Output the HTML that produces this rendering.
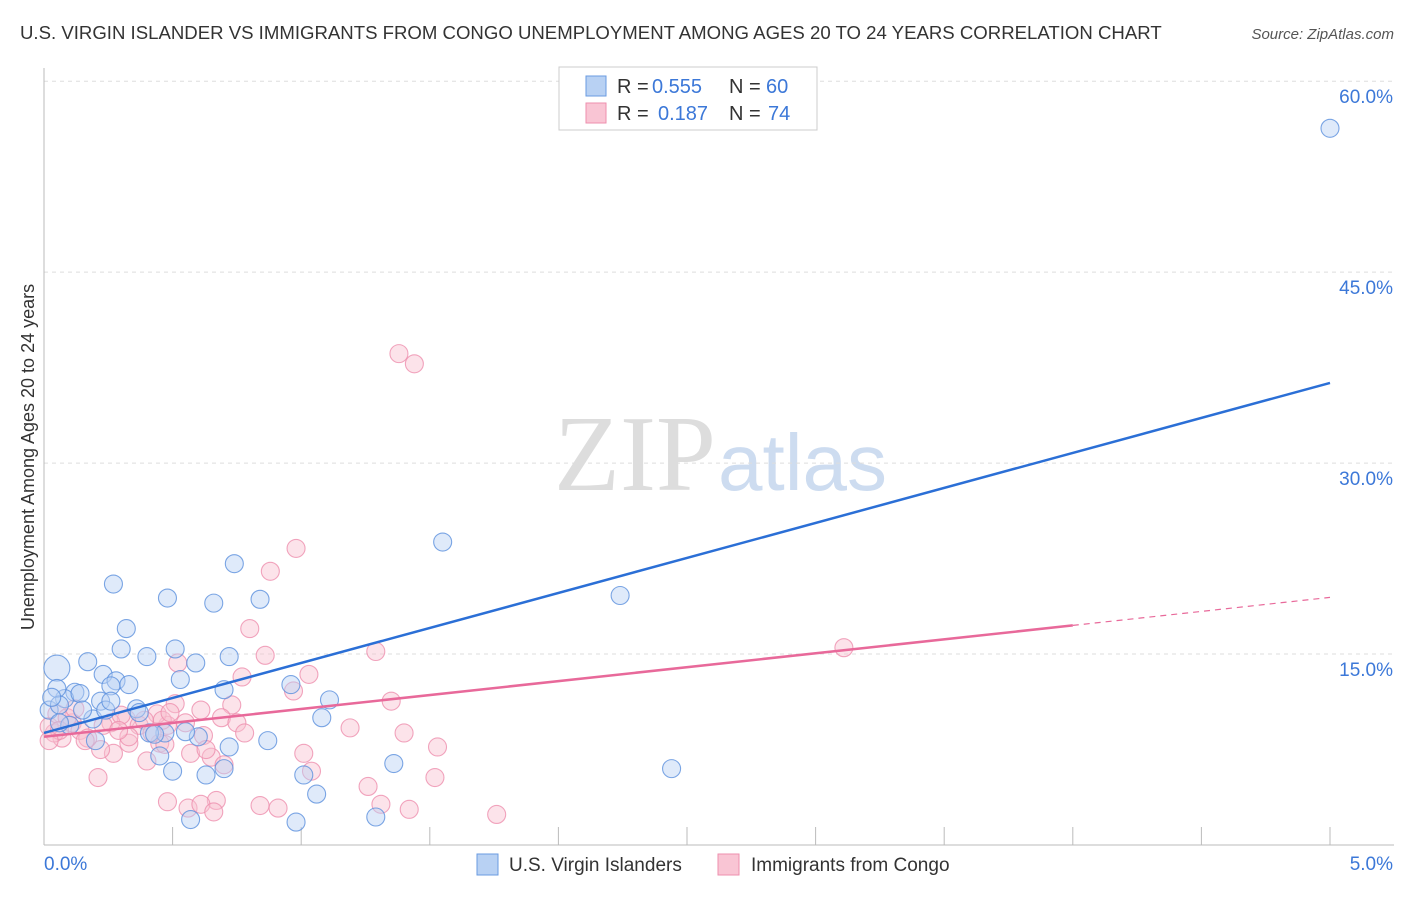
<!DOCTYPE html>
<html><head><meta charset="utf-8"><style>
body{margin:0;background:#fff;font-family:"Liberation Sans",sans-serif}
</style></head><body>
<svg width="1406" height="892" xmlns="http://www.w3.org/2000/svg">
<text x="20" y="39" font-size="18.6" fill="#333">U.S. VIRGIN ISLANDER VS IMMIGRANTS FROM CONGO UNEMPLOYMENT AMONG AGES 20 TO 24 YEARS CORRELATION CHART</text>
<text x="1394" y="39" font-size="15" fill="#555" text-anchor="end" font-style="italic">Source: ZipAtlas.com</text>
<text x="716" y="490" font-size="108" fill="#ddd" text-anchor="end" font-family="Liberation Serif">ZIP</text>
<text x="718" y="490" font-size="80" fill="#cddcf0">atlas</text>
<g id="grid"></g>
<g id="axes"></g>
<g id="points"></g>
<g id="lines"></g>
<text transform="translate(34,457) rotate(-90)" font-size="18" fill="#333" text-anchor="middle">Unemployment Among Ages 20 to 24 years</text>
<g font-size="20">
<rect x="559" y="67" width="258" height="63" fill="#fff" stroke="#ccc"/>
<rect x="586" y="76" width="20" height="20" fill="#b8d1f3" stroke="#6a9be0"/>
<text x="617" y="93" fill="#333">R =</text><text x="652" y="93" fill="#3c78d8">0.555</text>
<text x="729" y="93" fill="#333">N =</text><text x="766" y="93" fill="#3c78d8">60</text>
<rect x="586" y="103" width="20" height="20" fill="#f9c5d4" stroke="#ee8fae"/>
<text x="617" y="120" fill="#333">R =</text><text x="658" y="120" fill="#3c78d8">0.187</text>
<text x="729" y="120" fill="#333">N =</text><text x="768" y="120" fill="#3c78d8">74</text>
</g>
<g>
<rect x="477" y="854" width="21" height="21" fill="#b8d1f3" stroke="#6a9be0"/>
<text x="509" y="871" font-size="19" fill="#333">U.S. Virgin Islanders</text>
<rect x="718" y="854" width="21" height="21" fill="#f9c5d4" stroke="#ee8fae"/>
<text x="751" y="871" font-size="19" fill="#333">Immigrants from Congo</text>
</g>
</svg>
<script>
const yTicks=[15,30,45,60];
const xTickLabels=["0.0%","5.0%"];
const blueX=[5.0,1.55,2.24,2.44,0.74,0.27,0.48,0.66,0.84,0.32,0.3,0.4,0.51,0.59,0.72,0.05,0.17,0.23,0.28,0.33,0.53,0.26,0.7,0.96,1.11,1.08,0.12,0.08,0.14,0.22,0.36,0.37,0.19,0.47,0.41,0.43,0.6,0.72,0.87,0.2,0.45,0.5,0.63,0.7,1.01,1.36,1.06,0.57,0.98,1.29,0.05,0.02,0.06,0.1,0.03,0.15,0.24,0.55,0.26,0.06];
const blueY=[56.3,23.8,19.6,6.0,22.1,20.5,19.4,19.0,19.3,17.0,15.4,14.8,15.4,14.3,14.8,13.9,14.4,13.4,12.9,12.6,13.0,12.5,12.2,12.6,11.4,10.0,12.0,11.5,11.9,11.3,10.7,10.4,9.9,8.8,8.8,8.7,8.5,7.7,8.2,8.2,7.0,5.8,5.5,6.0,5.5,6.4,4.0,2.0,1.8,2.2,12.3,10.6,11.0,9.4,11.6,10.6,10.6,8.9,11.3,9.6];
const pinkX=[1.38,1.44,0.98,0.88,0.8,0.86,0.52,0.77,0.73,1.03,1.29,1.35,0.97,3.11,1.19,1.4,1.53,1.52,1.01,1.04,1.26,1.31,1.42,1.76,0.84,0.91,0.67,0.48,0.56,0.61,0.66,0.21,0.27,0.22,0.33,0.32,0.37,0.45,0.48,0.44,0.46,0.51,0.61,0.69,0.75,0.57,0.65,0.7,0.78,0.11,0.14,0.17,0.07,0.04,0.02,0.05,0.09,0.12,0.26,0.3,0.39,0.42,0.49,0.55,0.33,0.06,0.02,0.16,0.23,0.29,0.4,0.62,0.63,0.47];
const pinkY=[38.6,37.8,23.3,21.5,17.0,14.9,14.3,13.2,11.0,13.4,15.2,11.3,12.1,15.5,9.2,8.8,7.7,5.3,7.2,5.8,4.6,3.2,2.8,2.4,3.1,2.9,3.5,3.4,2.9,3.2,2.6,5.3,7.2,7.5,8.0,9.9,9.4,8.0,9.4,10.3,9.8,11.1,10.6,10.0,9.6,7.2,6.9,6.3,8.8,9.6,9.0,8.4,8.4,8.8,9.3,10.3,10.0,10.7,9.6,10.2,9.8,8.8,10.4,9.6,8.5,9.0,8.2,8.2,9.4,9.0,6.6,8.6,7.5,7.9];
const blueFit=[8.8,36.3];
const pinkFit=[8.5,17.25,19.45];
const pinkSolidEnd=4.0;
const NS="http://www.w3.org/2000/svg";
const X0=44,X1=1330,Y0=845,PPY=12.73;
const sx=v=>X0+(X1-X0)*v/5;
const sy=v=>Y0-v*PPY;
function mk(t,a,p){const e=document.createElementNS(NS,t);for(const k in a)e.setAttribute(k,a[k]);p.appendChild(e);return e;}
const grid=document.getElementById('grid'),axes=document.getElementById('axes'),pts=document.getElementById('points'),lines=document.getElementById('lines');
yTicks.forEach(t=>{
 const l=mk('line',{x1:X0,x2:1394,y1:sy(t),y2:sy(t),stroke:'#ddd','stroke-dasharray':'4,4'},grid);
 
 
 const tx=mk('text',{x:1393,y:sy(t)+22,'font-size':19,fill:'#3c78d8','text-anchor':'end'},axes);
 tx.textContent=t.toFixed(1)+'%';
 
 
});
const ya=mk('line',{x1:X0,x2:X0,y1:68,y2:Y0,stroke:'#bbb'},axes);


const xa=mk('line',{x1:X0,x2:1394,y1:Y0,y2:Y0,stroke:'#bbb'},axes);


for(let i=1;i<=10;i++){const t=mk('line',{x1:sx(i*0.5),x2:sx(i*0.5),y1:Y0-18,y2:Y0,stroke:'#bbb'},axes);
 
 }
[[0,'start'],[1,'end']].forEach(([i,a])=>{const t=mk('text',{x:i?1393:44,y:870,'font-size':19,fill:'#3c78d8','text-anchor':a},axes);t.textContent=xTickLabels[i];
 
 });
function dots(X,Y,fill,stroke,name,big){X.forEach((x,i)=>{const c=mk('circle',{cx:sx(x),cy:sy(Y[i]),r:i===big?13:9,fill:fill,'fill-opacity':0.45,stroke:stroke,'stroke-opacity':0.8,'stroke-width':1.1},pts);
 
 });}
dots(pinkX,pinkY,'#f9c0d0','#ee8fae','pink-point',-1);
dots(blueX,blueY,'#b8d1f3','#5b90dd','blue-point',15);
const bl=mk('line',{x1:sx(0),y1:sy(blueFit[0]),x2:sx(5),y2:sy(blueFit[1]),stroke:'#2b6fd6','stroke-width':2.5},lines);


const pl=mk('line',{x1:sx(0),y1:sy(pinkFit[0]),x2:sx(pinkSolidEnd),y2:sy(pinkFit[1]),stroke:'#e8699a','stroke-width':2.5},lines);


const pd=mk('line',{x1:sx(pinkSolidEnd),y1:sy(pinkFit[1]),x2:sx(5),y2:sy(pinkFit[2]),stroke:'#e8699a','stroke-width':1.2,'stroke-dasharray':'6,5'},lines);


</script>
</body></html>
